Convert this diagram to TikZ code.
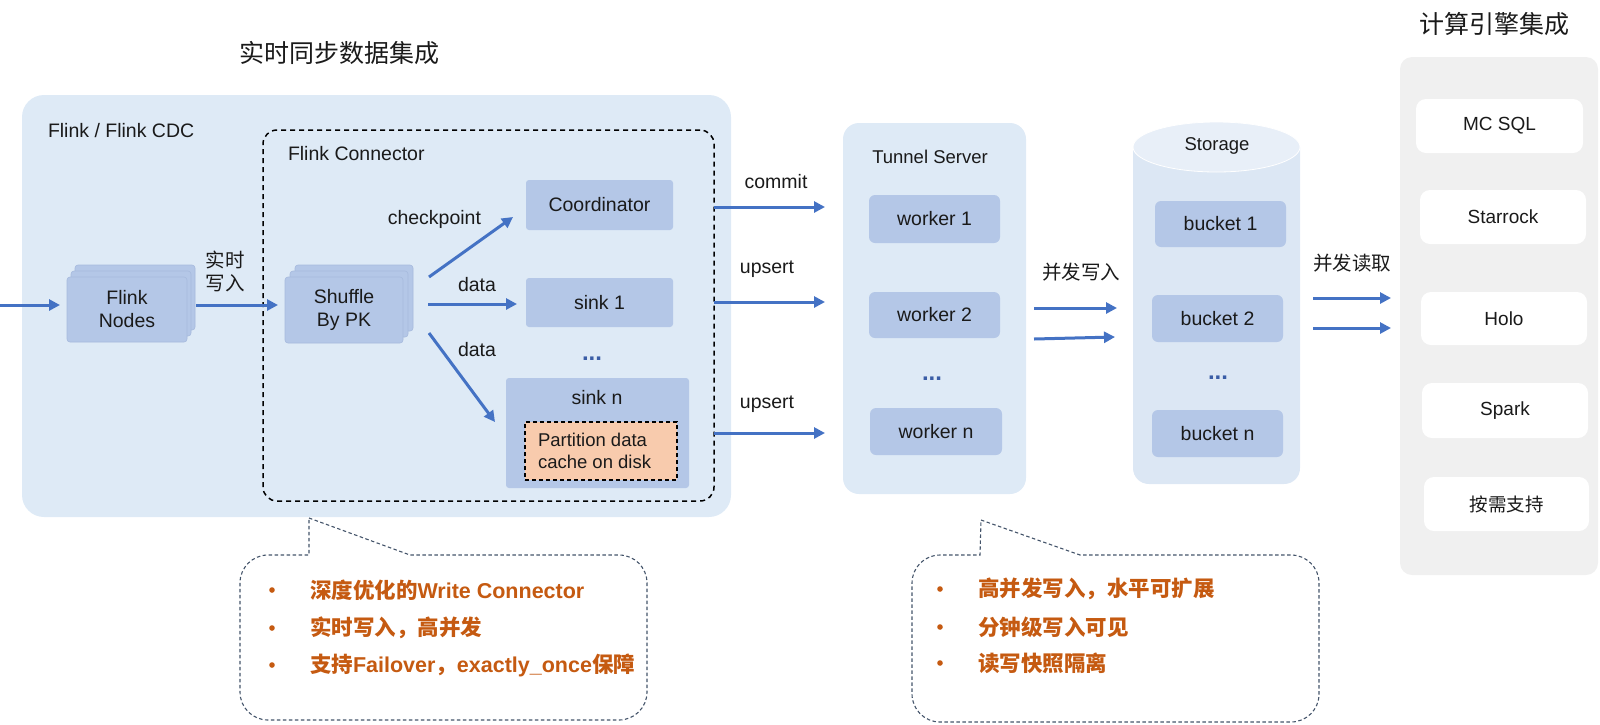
\documentclass[tikz,border=0pt]{standalone}
\usepackage{fontspec}
\setmainfont{Liberation Sans}
\newfontfamily\cjk{Noto Sans CJK SC}
\usetikzlibrary{arrows.meta,calc}
\definecolor{mainbg}{HTML}{DEEAF6}
\definecolor{nodebg}{HTML}{B4C7E7}
\definecolor{nodeedge}{HTML}{A6BADD}
\definecolor{arrowc}{HTML}{4472C4}
\definecolor{dotc}{HTML}{3A5DA6}
\definecolor{orangebg}{HTML}{F8CBAD}
\definecolor{panelbg}{HTML}{F0F0F0}
\definecolor{calloutc}{HTML}{44546A}
\definecolor{calltext}{HTML}{C55A11}
\definecolor{cylbody}{HTML}{DCE7F4}
\definecolor{cyltop}{HTML}{E8EFF8}
\definecolor{txt}{HTML}{1A1A1A}
\begin{document}
\begin{tikzpicture}[x=1pt,y=-1pt,
  every node/.style={inner sep=0pt,outer sep=0pt,text=txt},
  lbl/.style={font=\fontsize{19.5}{23}\selectfont},
  cjklbl/.style={font=\cjk\fontsize{19.5}{23}\selectfont},
  title/.style={font=\cjk\fontsize{25}{30}\selectfont},
  bluebox/.style={fill=nodebg,rounded corners=3pt,font=\fontsize{19.5}{23}\selectfont},
  stk/.style={fill=nodebg,draw=nodeedge,line width=0.6pt,rounded corners=3pt,font=\fontsize{19.5}{23}\selectfont,align=center},
  whitebox/.style={fill=white,rounded corners=10pt,font=\fontsize{19}{22}\selectfont},
  arr/.style={draw=arrowc,line width=3pt,-{Triangle[length=11pt,width=11pt]}},
  dots/.style={font=\bfseries\fontsize{24}{26}\selectfont,text=dotc},
  callout/.style={draw=calloutc,line width=1.1pt,dash pattern=on 3.5pt off 2.5pt},
  ctext/.style={font=\bfseries\fontsize{21.5}{26}\selectfont,text=calltext,anchor=west},
  cbullet/.style={fill=calltext}
]
\useasboundingbox (0,0) rectangle (1600,724);

% titles
\node[title] (t1) at (339,53) {实时同步数据集成};
\node[title] (t2) at (1494,24) {计算引擎集成};

% main box
\node[fill=mainbg,rounded corners=22pt,minimum width=709pt,minimum height=422pt] (main) at (376.5,306) {};
\node[lbl,anchor=west] (flinkcdc) at (48,131) {Flink / Flink CDC};

% connector dashed box
\node[draw=black,line width=1.5pt,dash pattern=on 5pt off 4pt,rounded corners=14pt,minimum width=451pt,minimum height=371pt] (conn) at (488.5,315.5) {};
\node[lbl,anchor=west] (conntitle) at (288,154) {Flink Connector};

% Flink nodes stack
\node[stk,minimum width=120pt,minimum height=65pt] (fn2) at (135,297.5) {};
\node[stk,minimum width=120pt,minimum height=65pt] (fn1) at (131,303.5) {};
\node[stk,minimum width=120pt,minimum height=65pt] (fn) at (127,309.5) {Flink\\Nodes};

% Shuffle stack
\node[stk,minimum width=118pt,minimum height=66pt] (sh2) at (354,298) {};
\node[stk,minimum width=118pt,minimum height=66pt] (sh1) at (349,304) {};
\node[stk,minimum width=118pt,minimum height=66pt] (sh) at (344,310) {Shuffle\\By PK};

% coordinator & sinks
\node[bluebox,minimum width=147pt,minimum height=50pt] (co) at (599.5,205) {Coordinator};
\node[bluebox,minimum width=147pt,minimum height=49pt] (s1) at (599.5,302.5) {sink 1};
\node[dots] (d1) at (592,359) {...};
\node[fill=nodebg,rounded corners=3pt,minimum width=183pt,minimum height=110pt] (sn) at (597.5,433) {};
\node[lbl] (snl) at (597,398) {sink n};
\node[fill=orangebg,draw=black,line width=1.2pt,dash pattern=on 4pt off 3pt,minimum width=152pt,minimum height=58pt] (part) at (601,451) {};
\node[font=\fontsize{18.5}{22}\selectfont,align=left,anchor=west] (partl) at (538,451) {Partition data\\cache on disk};

% arrows left
\coordinate (in) at (0,305);
\draw[arr] (in) -- ($(fn.west)+(-7,-4.5)$);
\draw[arr] ($(fn.east)+(9,-4.5)$) -- ($(sh.west)+(-7,-5)$);
\node[cjklbl,align=center] (rtxr) at (225,271) {实时\\写入};
\draw[arr] ($(sh.east)+(26,-33)$) -- ($(co.west)+(-13,12)$);
\draw[arr] ($(sh.east)+(25,-6)$) -- ($(s1.west)+(-9,1.5)$);
\draw[arr] ($(sh.east)+(26,23)$) -- ($(sn.west)+(-11,-11)$);
\node[lbl,anchor=east] (ckl) at (481,219) {checkpoint};
\node[lbl] (dl1) at (477,285) {data};
\node[lbl] (dl2) at (477,350) {data};

% Tunnel server
\node[fill=mainbg,rounded corners=16pt,minimum width=183pt,minimum height=371pt] (tun) at (934.5,308.5) {};
\node[font=\fontsize{18.5}{22}\selectfont] (tunl) at (930,157) {Tunnel Server};
\node[bluebox,rounded corners=6pt,minimum width=131pt,minimum height=48pt] (w1) at (934.5,219) {worker 1};
\node[bluebox,rounded corners=6pt,minimum width=131pt,minimum height=46pt] (w2) at (934.5,315) {worker 2};
\node[dots] (d2) at (932,379) {...};
\node[bluebox,rounded corners=6pt,minimum width=132pt,minimum height=47pt] (wn) at (936,431.5) {worker n};

% connector -> tunnel arrows
\draw[arr] ($(conn.east |- co.east)+(0,2)$) -- ($(tun.west |- co.east)+(-18,2)$);
\draw[arr] ($(conn.east |- s1.east)+(0,-0.5)$) -- ($(tun.west |- s1.east)+(-18,-0.5)$);
\draw[arr] (conn.east |- sn.east) -- ($(tun.west |- sn.east)+(-18,0)$);
\node[lbl] (cml) at (776,182) {commit};
\node[lbl] (up1) at (767,269) {upsert};
\node[lbl] (up2) at (767,404) {upsert};

% Storage cylinder
\fill[cylbody] (1133,147) -- (1133,468) .. controls (1133,477) and (1140,484) .. (1149,484) -- (1284,484) .. controls (1293,484) and (1300,477) .. (1300,468) -- (1300,147) -- cycle;
\filldraw[fill=cyltop,draw=white,line width=0.8pt] (1216.5,147) ellipse [x radius=83.5,y radius=25];
\node[font=\fontsize{18.5}{22}\selectfont] (stl) at (1217,146) {Storage};
\coordinate (stw) at (1133,305);
\coordinate (ste) at (1300,305);
\node[bluebox,rounded corners=6pt,minimum width=131pt,minimum height=46pt] (b1) at (1220.5,224) {bucket 1};
\node[bluebox,rounded corners=6pt,minimum width=131pt,minimum height=47pt] (b2) at (1217.5,318.5) {bucket 2};
\node[dots] (d3) at (1218,378) {...};
\node[bluebox,rounded corners=6pt,minimum width=131pt,minimum height=47pt] (bn) at (1217.5,433.5) {bucket n};

% tunnel -> storage arrows
\draw[arr] ($(tun.east)+(8,-0.5)$) -- ($(stw)+(-16,3)$);
\draw[arr] ($(tun.east)+(8,30.5)$) -- ($(stw)+(-18,32)$);
\node[cjklbl] (bfxr) at (1081,272) {并发写入};

% right panel
\node[fill=panelbg,rounded corners=12pt,minimum width=198pt,minimum height=518pt] (panel) at (1499,316) {};
\node[whitebox,minimum width=167pt,minimum height=54pt] (mc) at (1499.5,126) {MC SQL};
\node[whitebox,minimum width=166pt,minimum height=54pt] (sr) at (1503,217) {Starrock};
\node[whitebox,minimum width=166pt,minimum height=53pt] (ho) at (1504,318.5) {Holo};
\node[whitebox,minimum width=166pt,minimum height=55pt] (sp) at (1505,410.5) {Spark};
\node[whitebox,font=\cjk\fontsize{18.5}{22}\selectfont,minimum width=165pt,minimum height=54pt] (ax) at (1506.5,504) {按需支持};

% storage -> engines arrows
\draw[arr] ($(ste)+(13,-7)$) -- ($(panel.west |- ste)+(-9,-7)$);
\draw[arr] ($(ste)+(13,23)$) -- ($(panel.west |- ste)+(-9,23)$);
\node[cjklbl] (bfdq) at (1352,263) {并发读取};

% callout 1
\draw[callout] (309,518) -- (410,555) -- (619,555) .. controls (634.5,555) and (647,567.5) .. (647,583) -- (647,692) .. controls (647,707.5) and (634.5,720) .. (619,720) -- (268,720) .. controls (252.5,720) and (240,707.5) .. (240,692) -- (240,583) .. controls (240,567.5) and (252.5,555) .. (268,555) -- (309,555) -- cycle;
\fill[cbullet] (272,590) circle [radius=2.8];
\fill[cbullet] (272,628) circle [radius=2.8];
\fill[cbullet] (272,665) circle [radius=2.8];
\node[ctext] (c1a) at (310,590) {{\cjk 深度优化的}Write Connector};
\node[ctext] (c1b) at (310,628) {{\cjk 实时写入，高并发}};
\node[ctext] (c1c) at (310,665) {{\cjk 支持}Failover{\cjk ，}exactly\_once{\cjk 保障}};

% callout 2
\draw[callout] (981,520) -- (1080,555) -- (1291,555) .. controls (1306.5,555) and (1319,567.5) .. (1319,583) -- (1319,694) .. controls (1319,709.5) and (1306.5,722) .. (1291,722) -- (940,722) .. controls (924.5,722) and (912,709.5) .. (912,694) -- (912,583) .. controls (912,567.5) and (924.5,555) .. (940,555) -- (980,555) -- cycle;
\fill[cbullet] (940,589) circle [radius=2.8];
\fill[cbullet] (940,627) circle [radius=2.8];
\fill[cbullet] (940,663) circle [radius=2.8];
\node[ctext] (c2a) at (978,589) {{\cjk 高并发写入，水平可扩展}};
\node[ctext] (c2b) at (978,627) {{\cjk 分钟级写入可见}};
\node[ctext] (c2c) at (978,663) {{\cjk 读写快照隔离}};
\end{tikzpicture}
\end{document}
